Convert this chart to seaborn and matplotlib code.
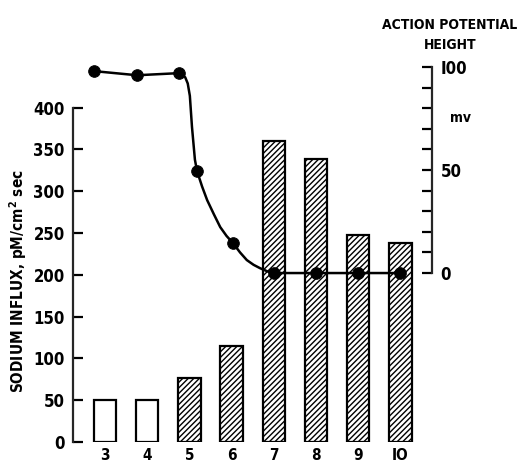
import numpy as np
import pandas as pd
import matplotlib
matplotlib.use("Agg")
import matplotlib.pyplot as plt
import seaborn as sns
from matplotlib.ticker import FixedLocator

#%% Daten
positions = [3, 4, 5, 6, 7, 8, 9, 10]
influx = [50, 50, 76, 115, 360, 338, 248, 238]
hatched = [False, False, True, True, True, True, True, True]

ap_x = [2.74, 3.76, 4.76, 5.18, 6.03, 7, 8, 9, 10]
ap_mv = [98, 96, 97, 49.5, 14.6, 0, 0, 0, 0]

curve_x = [2.74, 3.76, 4.73, 4.82, 4.9, 4.96, 5.01, 5.06, 5.13, 5.18, 5.3, 5.42,
           5.58, 5.73, 5.88, 6.03, 6.2, 6.36, 6.52, 6.67, 6.85, 6.98, 8, 9, 10]
curve_mv = [98, 96, 97, 96.5, 95, 92, 86, 71, 55, 49.5, 42, 35.4,
            28.5, 22.3, 18, 14.6, 10, 6.3, 4, 2.4, 0.8, 0, 0, 0, 0]

tick_labels = ["3", "4", "5", "6", "7", "8", "9", "IO"]
mv_minor = [10, 20, 30, 40, 60, 70, 80, 90]

#%% Plot
sns.set_style("ticks")
plt.rcParams["font.family"] = ["DejaVu Sans"]
plt.rcParams["font.stretch"] = "condensed"
plt.rcParams["font.weight"] = "bold"
plt.rcParams["mathtext.default"] = "bf"
plt.rcParams["text.color"] = "black"
plt.rcParams["axes.labelcolor"] = "black"
plt.rcParams["xtick.color"] = "black"
plt.rcParams["ytick.color"] = "black"
plt.rcParams["hatch.linewidth"] = 1.0

fig = plt.figure(figsize=(5.2, 4.62), dpi=100)
ax = fig.add_axes([73/520, 20/462, (432-73)/520, (442-60)/462])

df = pd.DataFrame({"pos": positions, "influx": influx})
sns.barplot(data=df, x="pos", y="influx", native_scale=True, width=0.53,
            color="white", edgecolor="black", linewidth=1.6, ax=ax, errorbar=None)
for patch, h in zip(ax.patches, hatched):
    patch.set_facecolor("white")
    if h:
        patch.set_hatch("//////")

ax.set_xlim(2.24, 10.75)
ax.set_ylim(0, 457)
ax.set_xticks(positions)
ax.set_xticklabels(tick_labels, fontsize=11)
ax.tick_params(axis="x", length=0, pad=4)
ax.set_yticks(range(0, 401, 50))
ax.tick_params(axis="y", direction="in", length=7, width=1.6, labelsize=12, pad=6)
ax.spines["left"].set_bounds(0, 400)
ax.spines["left"].set_linewidth(1.6)
for s in ["top", "right", "bottom"]:
    ax.spines[s].set_visible(False)
ax.set_xlabel("")
ax.set_ylabel("SODIUM INFLUX, pM/cm$^2$ sec", fontsize=11, fontweight="bold")
ax.yaxis.set_label_coords(-0.122, 0.42)

# rechte Achse
ax2 = ax.twinx()
ax2.set_ylim(-82.0, 103.4)
sns.lineplot(x=curve_x, y=curve_mv, color="black", linewidth=1.8, ax=ax2)
sns.scatterplot(x=ap_x, y=ap_mv, color="black", s=70, edgecolor="black", ax=ax2, zorder=5)
ax2.set_xlim(2.24, 10.75)
for s in ["top", "left", "bottom"]:
    ax2.spines[s].set_visible(False)
ax2.spines["right"].set_bounds(0, 100)
ax2.spines["right"].set_linewidth(1.6)
ax2.set_yticks([0, 50, 100])
ax2.set_yticklabels(["0", "50", "I00"])
ax2.yaxis.set_minor_locator(FixedLocator(mv_minor))
ax2.tick_params(axis="y", which="both", direction="in", length=7, width=1.6,
                labelsize=12, pad=6)
ax2.text(1.05, 1 - (118 - 60) / 382, "mv", transform=ax2.transAxes,
         fontsize=10, va="center")

fig.text(450/520, 1 - 25/462, "ACTION POTENTIAL", ha="center", va="center", fontsize=10)
fig.text(450/520, 1 - 45/462, "HEIGHT", ha="center", va="center", fontsize=10)

fig.savefig("out.png", dpi=100)
